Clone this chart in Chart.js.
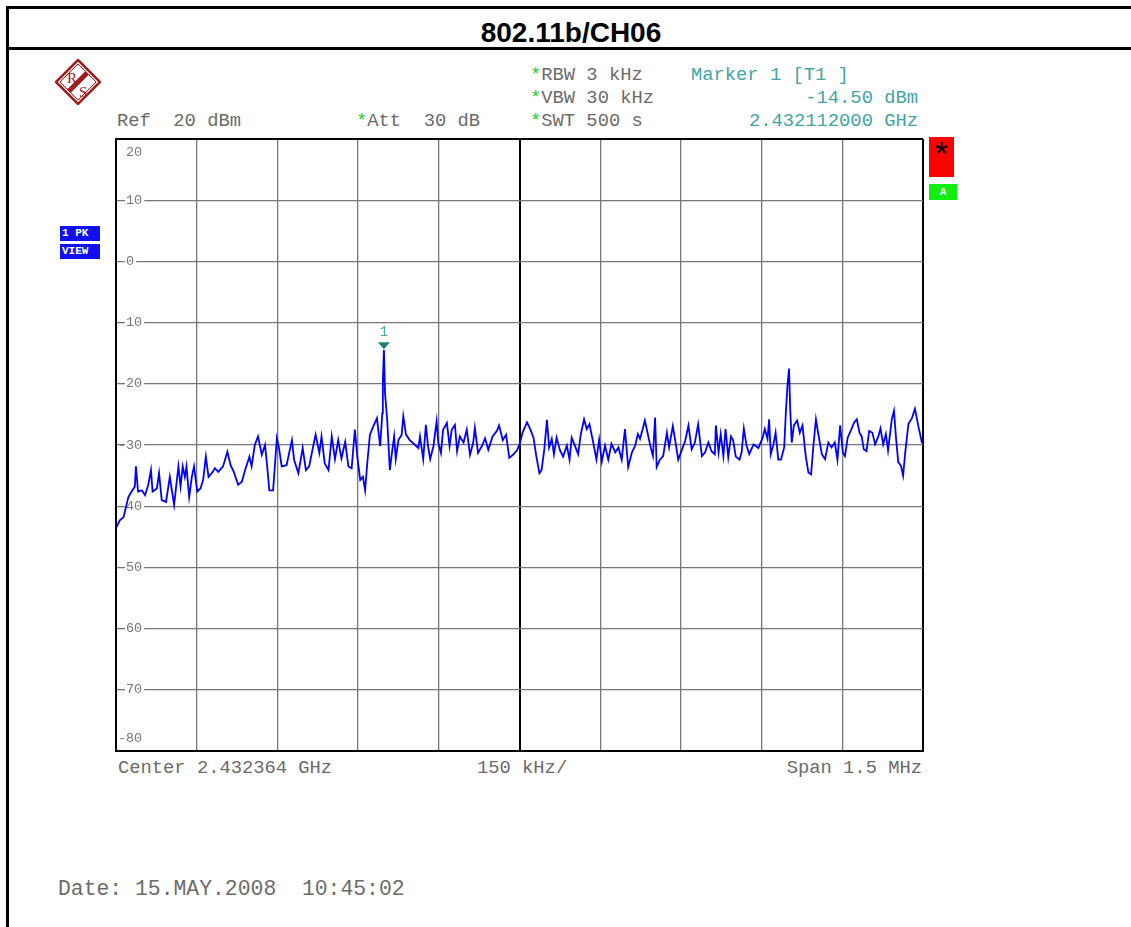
<!DOCTYPE html>
<html lang="en">
<head>
<meta charset="UTF-8">
<title>802.11b/CH06</title>
<script src="https://cdn.jsdelivr.net/npm/chart.js"></script>
<style>
  body { margin: 0; width: 1131px; height: 927px; overflow: hidden; background: #fff; position: relative; }
  .frame { position: absolute; left: 6px; top: 6px; width: 1140px; height: 960px; border-left: 3px solid #000; border-top: 3px solid #000; }
  .rule { position: absolute; left: 6px; top: 47px; width: 1140px; height: 3px; background: #000; }
  .title { position: absolute; left: 9px; top: 18px; width: 1124px; text-align: center; font: bold 28px/30px "Liberation Sans", Arial, sans-serif; color: #000; }
  .t { position: absolute; font: 18.8px/20px "Liberation Mono", "DejaVu Sans Mono", monospace; color: #6b6b6b; white-space: pre; }
  .teal { color: #3fa5a5; }
  .star { color: #1fcf1f; }
  .tag { position: absolute; background: #1010f0; color: #fff; font: bold 11px/15px "Liberation Mono", monospace; white-space: pre; overflow: hidden; padding-left: 2px; }
  #chart { position: absolute; left: 0; top: 0; }
</style>
</head>
<body>
  <div class="frame"></div>
  <div class="rule"></div>
  <div class="title">802.11b/CH06</div>

  <svg style="position:absolute;left:55px;top:59px" width="46" height="46" viewBox="0 0 46 46">
    <polygon points="23,1 45,23 23,45 1,23" fill="none" stroke="#a11d1d" stroke-width="2.5"/>
    <polygon points="23,5 41,23 23,41 5,23" fill="none" stroke="#a11d1d" stroke-width="1"/>
    <line x1="32" y1="14" x2="14" y2="32" stroke="#a11d1d" stroke-width="5"/>
    <text x="12" y="24" font-size="15" fill="#a11d1d" font-family="Liberation Serif">R</text>
    <text x="24" y="38" font-size="15" fill="#a11d1d" font-family="Liberation Serif">S</text>
  </svg>

  <div class="t" style="left:530px;top:65px"><span class="star">*</span>RBW 3 kHz</div>
  <div class="t" style="left:530px;top:88px"><span class="star">*</span>VBW 30 kHz</div>
  <div class="t" style="left:530px;top:111px"><span class="star">*</span>SWT 500 s</div>
  <div class="t teal" style="left:691px;top:65px">Marker 1 [T1 ]</div>
  <div class="t teal" style="right:213px;top:88px">-14.50 dBm</div>
  <div class="t teal" style="right:213px;top:111px">2.432112000 GHz</div>
  <div class="t" style="left:117px;top:111px">Ref  20 dBm</div>
  <div class="t" style="left:356px;top:111px"><span class="star">*</span>Att  30 dB</div>

  <div class="tag" style="left:60px;top:226px;width:38px;height:15px">1 PK</div>
  <div class="tag" style="left:60px;top:244px;width:38px;height:15px">VIEW</div>

  <div style="position:absolute;left:929px;top:137px;width:25px;height:40px;background:#ff0000;color:#000;font:34px/40px 'Liberation Mono',monospace;text-align:center">*</div>
  <div style="position:absolute;left:929px;top:184px;width:28px;height:16px;background:#11ee11;color:#fff;font:bold 11px/16px 'Liberation Mono',monospace;text-align:center">A</div>

  <div class="t" style="left:118px;top:758px">Center 2.432364 GHz</div>
  <div class="t" style="left:477px;top:758px">150 kHz/</div>
  <div class="t" style="right:209px;top:758px">Span 1.5 MHz</div>
  <div class="t" style="left:58px;top:878px;font-size:21.4px;line-height:22px">Date: 15.MAY.2008  10:45:02</div>

  <canvas id="chart" width="1131" height="927"></canvas>

<script>
// frequency offset from centre 2.432364 GHz, in kHz (span 1.5 MHz)
const offsetKHz = [
  -749, -743, -736, -727, -721, -715, -713, -709, -702, -696, -690, -685, -682, -674, -670, -665,
  -657, -650, -642, -634, -630, -626, -622, -619, -614, -609, -605, -599, -593, -588, -583, -578,
  -572, -566, -560, -551, -543, -537, -531, -523, -516, -510, -502, -498, -492, -486, -479, -473,
  -469, -465, -458, -451, -447, -442, -433, -423, -419, -411, -403, -397, -391, -383, -379, -372,
  -368, -362, -355, -349, -343, -337, -331, -324, -318, -312, -306, -301, -296, -291, -287, -283,
  -278, -272, -265, -259, -255, -254, -252, -250, -246, -241, -238, -233, -230, -225, -219, -216,
  -211, -204, -194, -188, -185, -179, -174, -170, -166, -160, -154, -151, -146, -142, -135, -130,
  -126, -120, -116, -111, -104, -98, -92, -86, -83, -77, -70, -64, -58, -50, -42, -38,
  -31, -25, -19, -12, -4, 1, 6, 14, 20, 26, 31, 37, 41, 46, 51, 55,
  60, 64, 69, 75, 81, 88, 93, 97, 103, 109, 114, 120, 125, 130, 137, 143,
  148, 153, 159, 165, 171, 178, 184, 190, 196, 202, 209, 215, 220, 224, 229, 233,
  238, 243, 248, 252, 255, 261, 267, 274, 278, 285, 289, 295, 301, 308, 314, 320,
  326, 332, 339, 345, 351, 357, 363, 365, 370, 374, 379, 383, 388, 393, 397, 402,
  409, 413, 417, 422, 427, 435, 444, 452, 456, 461, 464, 467, 472, 476, 481, 486,
  492, 495, 498, 501, 503, 506, 510, 516, 521, 526, 532, 537, 542, 546, 551, 555,
  562, 568, 574, 580, 586, 591, 596, 601, 605, 610, 617, 622, 627, 632, 636, 640,
  645, 650, 656, 661, 667, 671, 676, 681, 685, 692, 696, 700, 704, 709, 713, 717,
  723, 729, 735, 741, 748, 750
];
// trace level, dBm
const levelDbm = [
  -43.4, -42.3, -41.8, -38.5, -37.6, -36.8, -33.5, -37.6, -37.4, -38.2, -36.5, -34.1, -37.6, -37.1, -34.6, -39.0,
  -39.3, -35.2, -39.8, -33.5, -36.8, -33.5, -35.2, -33.5, -38.5, -35.2, -33.5, -37.6, -37.1, -35.7, -31.9, -35.2,
  -34.6, -33.8, -34.4, -33.5, -31.1, -33.3, -34.4, -36.5, -36.0, -34.1, -31.9, -33.5, -30.0, -28.6, -31.6, -30.0,
  -33.5, -37.4, -37.4, -28.9, -30.5, -33.5, -33.3, -29.2, -32.4, -34.6, -30.5, -34.1, -33.5, -30.0, -28.3, -31.3,
  -28.6, -33.0, -34.1, -28.6, -32.3, -29.2, -32.2, -29.5, -33.5, -33.8, -27.5, -32.3, -35.7, -35.2, -37.4, -33.0,
  -28.3, -27.0, -25.6, -30.2, -24.8, -19.6, -14.5, -21.5, -25.8, -34.1, -31.9, -28.6, -32.3, -29.2, -28.3, -25.3,
  -28.3, -29.2, -30.0, -30.5, -28.6, -32.3, -26.7, -30.2, -32.3, -30.2, -26.1, -29.6, -31.3, -27.5, -26.4, -30.2,
  -27.5, -26.7, -31.0, -28.6, -29.6, -27.5, -31.6, -29.6, -27.2, -31.3, -30.2, -28.9, -30.8, -28.6, -27.7, -26.8,
  -29.2, -28.3, -32.1, -31.6, -30.8, -29.6, -27.9, -26.3, -27.4, -28.8, -31.7, -34.6, -34.1, -30.8, -25.9, -30.4,
  -29.0, -31.5, -28.8, -30.8, -31.9, -30.1, -32.4, -28.8, -30.1, -31.5, -28.2, -25.8, -27.4, -26.6, -29.6, -32.4,
  -29.1, -32.7, -30.1, -32.4, -29.8, -31.2, -30.4, -32.4, -27.4, -33.6, -31.2, -30.1, -28.2, -29.0, -27.4, -26.0,
  -28.0, -30.1, -31.8, -25.5, -33.6, -32.4, -31.8, -28.0, -30.4, -26.9, -29.0, -32.4, -31.0, -29.3, -26.8, -30.7,
  -29.6, -26.6, -31.8, -31.2, -29.6, -31.0, -31.5, -26.8, -31.2, -28.2, -31.8, -27.4, -32.0, -28.6, -29.2, -31.9,
  -32.4, -31.1, -27.3, -30.1, -31.5, -29.9, -30.5, -28.8, -27.4, -29.0, -25.8, -31.5, -29.9, -28.0, -32.4, -32.4,
  -30.4, -24.8, -20.4, -17.5, -23.7, -29.6, -26.8, -26.0, -28.0, -26.8, -31.8, -34.5, -34.8, -30.4, -25.8, -28.0,
  -31.5, -32.3, -29.6, -30.4, -29.6, -32.4, -26.8, -31.2, -31.8, -28.8, -27.4, -26.3, -25.8, -28.0, -28.6, -30.7,
  -31.0, -27.7, -28.0, -29.9, -28.6, -27.3, -29.9, -28.2, -30.9, -25.8, -24.4, -29.0, -32.8, -33.4, -35.0, -31.2,
  -26.5, -25.7, -24.1, -26.8, -29.6, -29.8
];
const levelTicks = [20, 10, 0, -10, -20, -30, -40, -50, -60, -70, -80];
const markerKHz = -252;
const markerDbm = -14.5;

// frame lines black, centre frequency line black and heavier, rest grey
const xStrong = v => v === 0 || Math.abs(v) === 750;
const yStrong = v => v === 20 || v === -80;

const levelLabels = {
  id: 'levelLabels',
  beforeDatasetsDraw(chart) {
    const { ctx, chartArea, scales: { y } } = chart;
    ctx.save();
    ctx.font = '13.5px "Liberation Mono", monospace';
    ctx.textBaseline = 'middle';
    ctx.textAlign = 'right';
    levelTicks.forEach((v, i) => {
      let py = y.getPixelForValue(v);
      if (i === 0) py += 13;
      if (i === levelTicks.length - 1) py -= 13;
      const digits = String(Math.abs(v));
      const w = ctx.measureText(digits).width;
      const x0 = chartArea.left + 10;
      ctx.fillStyle = '#fff';
      ctx.fillRect(x0 - 1, py - 6, w + 3, 12);
      ctx.fillStyle = '#777';
      ctx.fillText(String(v), x0 + w, py);
    });
    ctx.restore();
  }
};

const markerPlugin = {
  id: 'markerPlugin',
  afterDatasetsDraw(chart) {
    const { ctx, scales: { x, y } } = chart;
    const px = x.getPixelForValue(markerKHz);
    const py = y.getPixelForValue(markerDbm);
    ctx.save();
    ctx.fillStyle = '#1d7f7f';
    ctx.beginPath();
    ctx.moveTo(px - 6, py - 8);
    ctx.lineTo(px + 6, py - 8);
    ctx.lineTo(px, py - 1);
    ctx.closePath();
    ctx.fill();
    ctx.fillStyle = '#45a8a8';
    ctx.font = '14px "Liberation Mono", monospace';
    ctx.textAlign = 'center';
    ctx.textBaseline = 'middle';
    ctx.fillText('1', px, py - 18);
    ctx.restore();
  }
};

new Chart(document.getElementById('chart'), {
  type: 'line',
  data: {
    datasets: [{
      data: offsetKHz.map((f, i) => ({ x: f, y: levelDbm[i] })),
      borderColor: '#0000ff',
      borderWidth: 1.8,
      pointRadius: 0,
      tension: 0,
      fill: false
    }]
  },
  options: {
    responsive: false,
    animation: false,
    layout: { padding: { left: 116, top: 139, right: 208, bottom: 176 } },
    plugins: { legend: { display: false }, tooltip: { enabled: false } },
    scales: {
      x: {
        type: 'linear', min: -750, max: 750,
        ticks: { display: false, stepSize: 150 },
        grid: {
          drawTicks: false,
          color: c => xStrong(c.tick.value) ? '#000' : '#777',
          lineWidth: c => xStrong(c.tick.value) ? 2 : 1.3
        },
        border: { color: '#000', width: 2 }
      },
      y: {
        type: 'linear', min: -80, max: 20,
        ticks: { display: false, stepSize: 10 },
        grid: {
          drawTicks: false,
          color: c => yStrong(c.tick.value) ? '#000' : '#777',
          lineWidth: c => yStrong(c.tick.value) ? 2 : 1.3
        },
        border: { color: '#000', width: 2 }
      }
    }
  },
  plugins: [levelLabels, markerPlugin]
});
</script>
</body>
</html>
